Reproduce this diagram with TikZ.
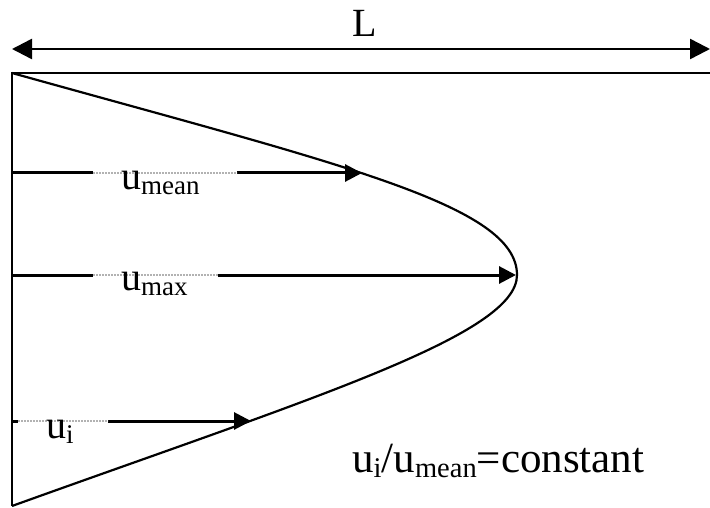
\documentclass[tikz,border=0pt]{standalone}
\usepackage{fontspec}
\setmainfont{Liberation Serif}
\usetikzlibrary{arrows.meta}
\newcommand\sbx[1]{\raisebox{-0.13em}{\fontsize{27}{30}\selectfont #1}}
\newcommand\sbl[1]{\raisebox{-0.12em}{\fontsize{28.5}{30}\selectfont #1}}
\begin{document}
\begin{tikzpicture}[x=1pt,y=-1pt,
  frame/.style={line width=2.5pt},
  profile/.style={line width=2.2pt},
  vel/.style={line width=3pt,-{Triangle[length=17pt,width=17pt]}},
  dimarrow/.style={line width=2.5pt,{Triangle[length=20pt,width=20pt]}-{Triangle[length=20pt,width=20pt]}},
  lbl/.style={inner sep=0pt, anchor=base west, font=\fontsize{40}{48}\selectfont},
  law/.style={inner sep=0pt, anchor=base west, font=\fontsize{43}{50}\selectfont},
  gap/.style={white,line width=3.4pt},
  dashgray/.style={gray!60,line width=1.4pt,dash pattern=on 2pt off 1pt}]
\useasboundingbox (0,0) rectangle (710,508);
% frame coordinates
\coordinate (dl) at (12,49);
\coordinate (dr) at (710,49);
\coordinate (tl) at (12,73);
\coordinate (tr) at (710,73);
\coordinate (bl) at (12,506);
\coordinate (vx) at (517,275);
% velocity arrow ends
\coordinate (m0) at (12,173);
\coordinate (m1) at (362,173);
\coordinate (x0) at (12,275);
\coordinate (x1) at (516,275);
\coordinate (i0) at (12,421);
\coordinate (i1) at (251,421);
% dimension
\draw[dimarrow] (dl) -- (dr);
\node[lbl, anchor=base] (L) at (365,37) {L};
% frame
\draw[frame] (tr) -- (tl) -- (bl);
% profile
\draw[profile] (tl) .. controls (342,165) and (517,205) .. (vx)
  .. controls (517,335) and (312,398) .. (bl);
% velocity arrows
\draw[vel] (m0) -- (m1);
\draw[vel] (x0) -- (x1);
\draw[vel] (i0) -- (i1);
% grey dashed stretches
\draw[gap] (93,173) -- (237,173);
\draw[dashgray] (93,173) -- (237,173);
\draw[gap] (93,275) -- (218,275);
\draw[dashgray] (93,275) -- (218,275);
\draw[gap] (18,421) -- (108,421);
\draw[dashgray] (18,421) -- (108,421);
% labels
\node[lbl] (umean) at (121,189.5) {u\sbx{mean}};
\node[lbl] (umax) at (121,290.5) {u\sbx{max}};
\node[lbl] (ui) at (46,438) {u\sbx{i}};
\node[law] (rel) at (352,472) {u\sbl{i}/u\sbl{mean}=constant};
\end{tikzpicture}
\end{document}
